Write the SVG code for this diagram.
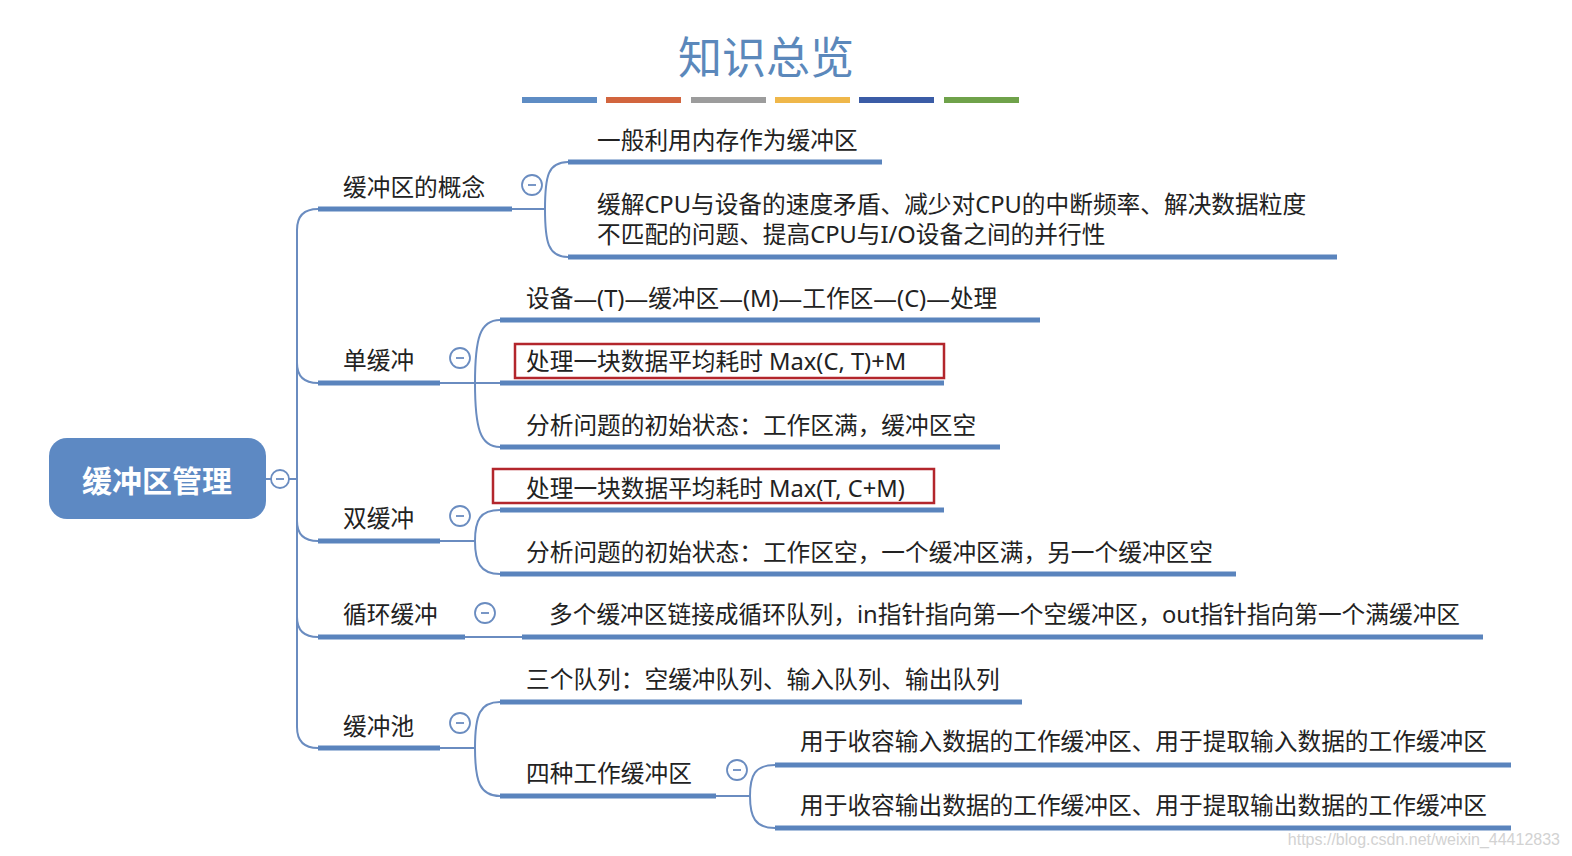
<svg xmlns="http://www.w3.org/2000/svg" width="1572" height="856" viewBox="0 0 1572 856">
<style>
.t{font-family:"Noto Sans","Noto Sans CJK SC",sans-serif;font-size:23.7px;fill:#222}
.ul{stroke:#5a84bd;stroke-width:5;fill:none;stroke-linecap:butt}
.cn{stroke:#6a8cc0;stroke-width:2;fill:none}
.cc{fill:#fff;stroke:#6a8cc0;stroke-width:1.8}
.mn{stroke:#6a8cc0;stroke-width:1.8}
.rb{fill:none;stroke:#b3262c;stroke-width:2.5}
</style>
<rect width="1572" height="856" fill="#fff"/>
<g id="title">
<text x="766" y="74" text-anchor="middle" style="font-family:'Noto Sans CJK SC',sans-serif;font-size:44px;fill:#5b88bb">知识总览</text>
<rect x="522" y="97" width="75" height="6" fill="#5e8cc4"/>
<rect x="606" y="97" width="75" height="6" fill="#d2653e"/>
<rect x="691" y="97" width="75" height="6" fill="#9c9c9c"/>
<rect x="775" y="97" width="75" height="6" fill="#efb74a"/>
<rect x="859" y="97" width="75" height="6" fill="#3b5ca6"/>
<rect x="944" y="97" width="75" height="6" fill="#6fa24a"/>
</g>
<g id="connectors">
<path class="cn" d="M266 479H271M289 479H297"/>
<path class="cn" d="M318 209Q297 209 297 230V727Q297 748 318 748"/>
<path class="cn" d="M297 363Q297 383 318 383M297 521Q297 541 318 541M297 617Q297 637 318 637"/>
<path class="cn" d="M512 209H545M545 209C545 176 548 162 568 162M545 209C545 242 548 257 568 257"/>
<path class="cn" d="M440 383H500M475 383C475 338 480 320 500 320M475 383C475 428 480 447 500 447"/>
<path class="cn" d="M440 541H475M475 541C475 520 480 510 500 510M475 541C475 562 480 574 500 574"/>
<path class="cn" d="M465 637H522"/>
<path class="cn" d="M440 748H475M475 748C475 714 480 702 500 702M475 748C475 782 480 796 500 796"/>
<path class="cn" d="M716 796H750M750 796C750 775 755 765 775 765M750 796C750 817 755 828 775 828"/>
</g>
<g id="root">
<rect x="49" y="438" width="217" height="81" rx="18" fill="#5d89c3"/>
<text x="157" y="492" text-anchor="middle" style="font-family:'Noto Sans CJK SC',sans-serif;font-size:30px;font-weight:bold;fill:#fff">缓冲区管理</text>
<circle class="cc" cx="280" cy="479" r="9"/><path class="mn" d="M276 479H284"/>
</g>
<g id="n-concept">
<text class="t" x="343" y="196">缓冲区的概念</text>
<path class="ul" d="M318 209H512"/>
<circle class="cc" cx="532" cy="185" r="10"/><path class="mn" d="M528 185H536"/>
</g>
<g id="n-concept-1">
<text class="t" x="597" y="149">一般利用内存作为缓冲区</text>
<path class="ul" d="M568 162H882"/>
</g>
<g id="n-concept-2">
<text class="t" x="597" y="213">缓解CPU与设备的速度矛盾、减少对CPU的中断频率、解决数据粒度</text>
<text class="t" x="597" y="243">不匹配的问题、提高CPU与I/O设备之间的并行性</text>
<path class="ul" d="M568 257H1337"/>
</g>
<g id="n-single">
<text class="t" x="343" y="369">单缓冲</text>
<path class="ul" d="M318 383H440"/>
<circle class="cc" cx="460" cy="358" r="10"/><path class="mn" d="M456 358H464"/>
</g>
<g id="n-single-1">
<text class="t" x="526" y="307">设备—(T)—缓冲区—(M)—工作区—(C)—处理</text>
<path class="ul" d="M500 320H1040"/>
</g>
<g id="n-single-2">
<rect class="rb" x="515" y="344" width="429" height="34"/>
<text class="t" x="526" y="370">处理一块数据平均耗时 Max(C, T)+M</text>
<path class="ul" d="M500 383H944"/>
</g>
<g id="n-single-3">
<text class="t" x="526" y="434">分析问题的初始状态：工作区满，缓冲区空</text>
<path class="ul" d="M500 447H1000"/>
</g>
<g id="n-double">
<text class="t" x="343" y="527">双缓冲</text>
<path class="ul" d="M318 541H440"/>
<circle class="cc" cx="460" cy="516" r="10"/><path class="mn" d="M456 516H464"/>
</g>
<g id="n-double-1">
<rect class="rb" x="493" y="469" width="441" height="34"/>
<text class="t" x="526" y="497">处理一块数据平均耗时 Max(T, C+M)</text>
<path class="ul" d="M500 510H944"/>
</g>
<g id="n-double-2">
<text class="t" x="526" y="561">分析问题的初始状态：工作区空，一个缓冲区满，另一个缓冲区空</text>
<path class="ul" d="M500 574H1236"/>
</g>
<g id="n-ring">
<text class="t" x="343" y="623">循环缓冲</text>
<path class="ul" d="M318 637H465"/>
<circle class="cc" cx="485" cy="613" r="10"/><path class="mn" d="M481 613H489"/>
</g>
<g id="n-ring-1">
<text class="t" x="549" y="623">多个缓冲区链接成循环队列，in指针指向第一个空缓冲区，out指针指向第一个满缓冲区</text>
<path class="ul" d="M522 637H1483"/>
</g>
<g id="n-pool">
<text class="t" x="343" y="735">缓冲池</text>
<path class="ul" d="M318 748H440"/>
<circle class="cc" cx="460" cy="723" r="10"/><path class="mn" d="M456 723H464"/>
</g>
<g id="n-pool-1">
<text class="t" x="526" y="688">三个队列：空缓冲队列、输入队列、输出队列</text>
<path class="ul" d="M500 702H1022"/>
</g>
<g id="n-pool-2">
<text class="t" x="526" y="782">四种工作缓冲区</text>
<path class="ul" d="M500 796H716"/>
<circle class="cc" cx="737" cy="770" r="10"/><path class="mn" d="M733 770H741"/>
</g>
<g id="n-pool-2-1">
<text class="t" x="800" y="750">用于收容输入数据的工作缓冲区、用于提取输入数据的工作缓冲区</text>
<path class="ul" d="M775 765H1511"/>
</g>
<g id="n-pool-2-2">
<text class="t" x="800" y="814">用于收容输出数据的工作缓冲区、用于提取输出数据的工作缓冲区</text>
<path class="ul" d="M775 828H1511"/>
</g>
<text x="1560" y="845" text-anchor="end" style="font-family:'Liberation Sans',Arial,sans-serif;font-size:16px;fill:#d2d2d2">https://blog.csdn.net/weixin_44412833</text>
</svg>
